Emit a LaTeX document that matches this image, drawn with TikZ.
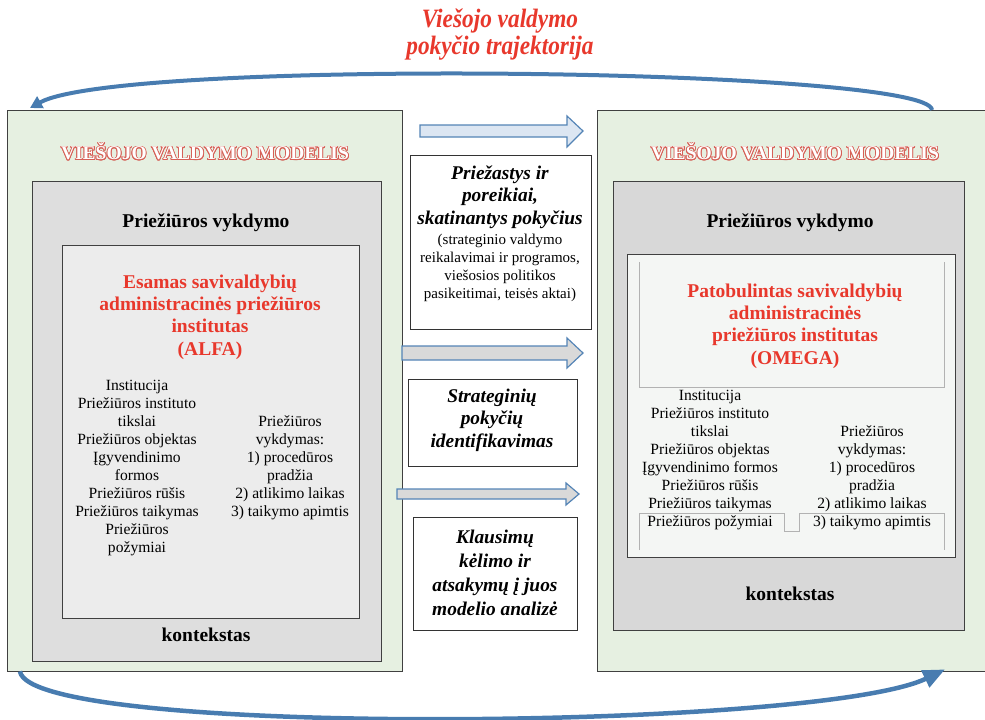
\documentclass[tikz,border=0pt]{standalone}
\usepackage{fontspec}
\setmainfont{Liberation Serif}
\usepackage{contour}
\usepackage{graphicx}
\usetikzlibrary{calc}
\usetikzlibrary{arrows.meta}
\definecolor{bggreen}{RGB}{230,240,225}
\definecolor{greyA}{RGB}{222,222,222}
\definecolor{greyB}{RGB}{236,236,236}
\definecolor{greyC}{RGB}{216,216,216}
\definecolor{greyD}{RGB}{244,246,244}
\definecolor{titlered}{RGB}{232,56,44}
\definecolor{hollowred}{RGB}{214,96,86}
\definecolor{arcblue}{RGB}{72,124,176}
\definecolor{arrowedge}{RGB}{84,132,182}
\definecolor{arrowfill}{RGB}{220,230,242}
\definecolor{arrowgrey}{RGB}{217,217,217}
\contourlength{0.8pt}
\tikzset{
  framebox/.style={draw=black!75, anchor=north west, inner sep=0pt},
  midbox/.style={draw=black!80, fill=white, anchor=north west, inner sep=0pt},
  blockarrow/.style={draw=arrowedge, line width=1.2pt, line join=miter},
  trajectory/.style={draw=arcblue, line width=4pt, -{Triangle[length=16pt,width=15pt]}},
  modeltitle/.style={font=\fontsize{19.5}{22}\selectfont\bfseries},
  headtext/.style={font=\fontsize{19.5}{22}\selectfont\bfseries},
  redtitle/.style={align=center, text=titlered, font=\fontsize{19.5}{22.3}\selectfont\bfseries},
  listtext/.style={align=center, font=\fontsize{15.6}{18}\selectfont},
  midbold/.style={align=center, font=\fontsize{19.4}{22.5}\selectfont\bfseries\itshape},
  midsmall/.style={align=center, font=\fontsize{15}{18}\selectfont}
}
\newcommand{\hollow}[1]{\contour{hollowred}{\textcolor{white}{#1}}}

\begin{document}
\begin{tikzpicture}[x=1pt,y=-1pt]
\clip (0,0) rectangle (985,720);
\node[text=titlered, align=center, font=\fontsize{26.5}{27}\selectfont\bfseries\itshape] (trajtitle) at (500,35)
  {\scalebox{0.88}[1]{Viešojo valdymo}\\\scalebox{0.88}[1]{pokyčio trajektorija}};

\node[framebox, fill=bggreen, minimum width=395pt, minimum height=561pt] (leftmodel) at (7,110) {};
\node[framebox, fill=greyA, minimum width=349pt, minimum height=480pt] (leftgrey) at (32,181) {};
\node[framebox, fill=greyB, minimum width=297pt, minimum height=373pt] (leftinner) at (62,245) {};
\node[modeltitle] (lefttitle) at (205,152) {\hollow{VIEŠOJO VALDYMO MODELIS}};
\node[headtext] (lefthead) at (206,223) {Priežiūros vykdymo};
\node[redtitle] (alfa) at (210,317) {Esamas savivaldybių\\administracinės priežiūros\\institutas\\(ALFA)};
\node[listtext] (leftlist) at (137,468) {Institucija\\Priežiūros instituto\\tikslai\\Priežiūros objektas\\Įgyvendinimo\\formos\\Priežiūros rūšis\\Priežiūros taikymas\\Priežiūros\\požymiai};
\node[listtext] (leftsteps) at (290,468) {Priežiūros\\vykdymas:\\1) procedūros\\pradžia\\2) atlikimo laikas\\3) taikymo apimtis};
\node[headtext] (leftcontext) at (206,635) {kontekstas};

\node[framebox, fill=bggreen, minimum width=400pt, minimum height=561pt] (rightmodel) at (597,110) {};
\node[framebox, fill=greyC, minimum width=351pt, minimum height=449pt] (rightgrey) at (613,181) {};
\node[framebox, fill=greyD, minimum width=328pt, minimum height=303pt] (rightinner) at (627,254) {};
\draw[black!30, line width=0.8pt] (639,262) -- (639,387) -- (944,387) -- (944,262);
\draw[black!30, line width=0.8pt] (639,550) -- (639,513) -- (784,513) -- (784,531) -- (799,531) -- (799,513) -- (944,513) -- (944,550);
\node[modeltitle] (righttitle) at (795,152) {\hollow{VIEŠOJO VALDYMO MODELIS}};
\node[headtext] (righthead) at (790,223) {Priežiūros vykdymo};
\node[redtitle] (omega) at (795,326) {Patobulintas savivaldybių\\administracinės\\priežiūros institutas\\(OMEGA)};
\node[listtext] (rightlist) at (710,460) {Institucija\\Priežiūros instituto\\tikslai\\Priežiūros objektas\\Įgyvendinimo formos\\Priežiūros rūšis\\Priežiūros taikymas\\Priežiūros požymiai};
\node[listtext] (rightsteps) at (872,478) {Priežiūros\\vykdymas:\\1) procedūros\\pradžia\\2) atlikimo laikas\\3) taikymo apimtis};
\node[headtext] (rightcontext) at (790,594) {kontekstas};

\node[midbox, minimum width=181pt, minimum height=174pt] (reasons) at (410,155) {};
\node[midbold] (reasonshead) at (500,197) {Priežastys ir\\poreikiai,\\skatinantys pokyčius};
\node[midsmall] (reasonstext) at (500,268) {(strateginio valdymo\\reikalavimai ir programos,\\viešosios politikos\\pasikeitimai, teisės aktai)};
\node[midbox, minimum width=169pt, minimum height=87pt] (identify) at (408,379) {};
\node[midbold] (identifytext) at (492,420) {Strateginių\\pokyčių\\identifikavimas};
\node[midbox, minimum width=164pt, minimum height=113pt] (questions) at (413,517) {};
\node[midbold, font=\fontsize{19.4}{24}\selectfont\bfseries\itshape] (questionstext) at (495,573) {Klausimų\\kėlimo ir\\atsakymų į juos\\modelio analizė};

\filldraw[blockarrow, fill=arrowfill] (420,125) -- (567,125) -- (567,116) -- (583,131) -- (567,147) -- (567,137) -- (420,137) -- cycle;
\filldraw[blockarrow, fill=arrowgrey] (402,346) -- (567,346) -- (567,338) -- (583,353) -- (567,368) -- (567,360) -- (402,360) -- cycle;
\filldraw[blockarrow, fill=arrowgrey] (397,489) -- (566,489) -- (566,483) -- (579,494) -- (566,505) -- (566,499) -- (397,499) -- cycle;

\draw[trajectory, -{Triangle[length=12pt,width=13pt]}] ([xshift=335pt]rightmodel.north west) .. controls (930,68) and (120,58) .. ([xshift=23pt,yshift=2pt]leftmodel.north west);
\draw[trajectory, line width=4.5pt, -{Triangle[length=22pt,width=18pt]}] ([xshift=13pt]leftmodel.south west) .. controls (30,738) and (820,730) .. ([xshift=348pt,yshift=2pt]rightmodel.south west);
\end{tikzpicture}
\end{document}
